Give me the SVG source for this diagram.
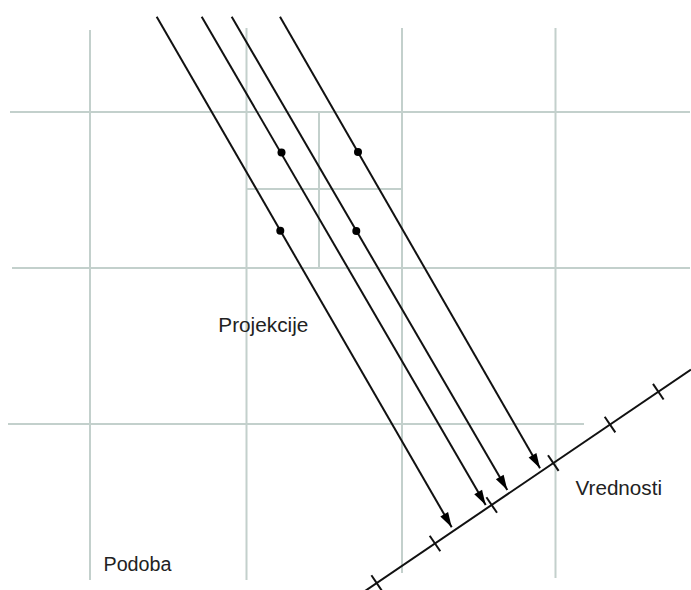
<svg xmlns="http://www.w3.org/2000/svg" width="691" height="590" viewBox="0 0 691 590">
  <style>
    .grid line { stroke: #c3d0cc; stroke-width: 2; fill: none; }
    .proj { stroke: #111; stroke-width: 2; fill: none; marker-end: url(#arrow); }
    .dot { fill: #000; }
    .axis { stroke: #111; stroke-width: 2; fill: none; }
    .label { font-family: "Liberation Sans", Arial, sans-serif; font-size: 20px; fill: #222; }
  </style>
  <defs>
    <marker id="arrow" markerUnits="userSpaceOnUse" markerWidth="20" markerHeight="14" viewBox="-16 -7 17 14" refX="0" refY="0" orient="auto">
      <path d="M0,0 L-15,-4.5 L-15,4.5 Z" fill="#000"/>
    </marker>
  </defs>
  <rect width="691" height="590" fill="#fff"/>

  <g id="grid" class="grid">
    <line x1="90" y1="30" x2="90" y2="580"/>
    <line x1="246.5" y1="28" x2="246.5" y2="580"/>
    <line x1="402" y1="28" x2="402" y2="573"/>
    <line x1="555.5" y1="28" x2="555.5" y2="578"/>
    <line x1="10" y1="112" x2="690" y2="112"/>
    <line x1="12" y1="268" x2="690" y2="268"/>
    <line x1="8" y1="424" x2="584" y2="424"/>
    <line x1="319" y1="112" x2="319" y2="268"/>
    <line x1="246.5" y1="189" x2="402" y2="189"/>
  </g>

  <g id="connectors">
    <line class="proj" x1="156.7" y1="16.7" x2="451.7" y2="527.3"/>
    <line class="proj" x1="201.7" y1="16.7" x2="485.7" y2="505"/>
    <line class="proj" x1="231.7" y1="16.7" x2="507.3" y2="490"/>
    <line class="proj" x1="280" y1="16.7" x2="540" y2="468.3"/>
  </g>

  <g id="points">
    <circle class="dot" cx="281.5" cy="152.5" r="4"/>
    <circle class="dot" cx="358" cy="152" r="4"/>
    <circle class="dot" cx="280.3" cy="230.7" r="4"/>
    <circle class="dot" cx="356.3" cy="231" r="4"/>
  </g>

  <g id="value-axis" class="axis">
    <line x1="364" y1="591.7" x2="691" y2="369.5"/>
    <line x1="371.4" y1="575.3" x2="382" y2="590.9"/>
    <line x1="429.7" y1="535.7" x2="440.3" y2="551.3"/>
    <line x1="486.4" y1="497.2" x2="497" y2="512.8"/>
    <line x1="548" y1="455.3" x2="558.6" y2="470.9"/>
    <line x1="604.7" y1="416.8" x2="615.3" y2="432.4"/>
    <line x1="653" y1="383.9" x2="663.6" y2="399.5"/>
  </g>

  <g id="labels">
    <text id="label-projekcije" class="label" x="218.3" y="332.3" textLength="90" lengthAdjust="spacingAndGlyphs">Projekcije</text>
    <text id="label-podoba" class="label" x="103.5" y="571" textLength="68" lengthAdjust="spacingAndGlyphs">Podoba</text>
    <text id="label-vrednosti" class="label" x="575.5" y="495" textLength="86.5" lengthAdjust="spacingAndGlyphs">Vrednosti</text>
  </g>
</svg>
